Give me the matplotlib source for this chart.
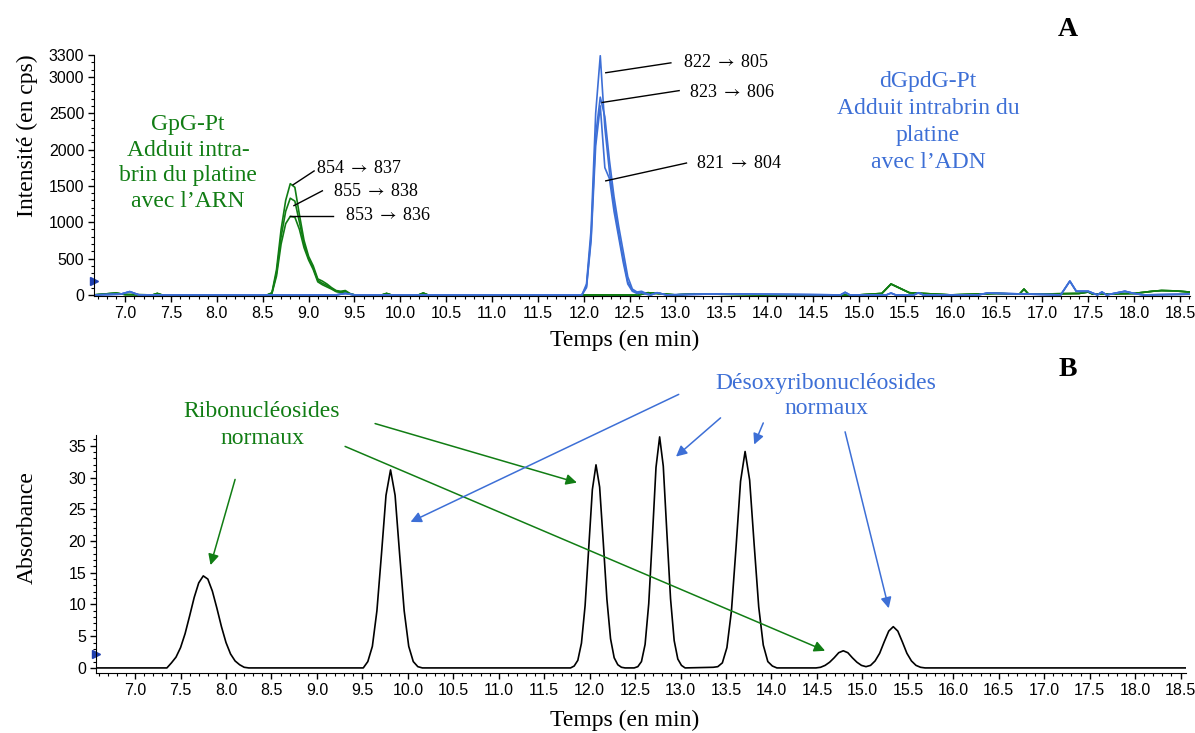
import matplotlib.pyplot as plt
from matplotlib.ticker import MultipleLocator

# ---- Panel A : MRM traces (temps en min, intensité en cps) ----
green_pre_t = [6.66, 6.8, 6.9, 7.0, 7.3, 7.35, 7.4, 8.0, 8.5]
green_pre_v = [0, 15, 25, 5, 0, 20, 0, 0, 0]
green_peak_t = [8.55, 8.6, 8.65, 8.7, 8.75, 8.8, 8.85, 8.9, 8.95, 9.0,
                9.05, 9.1, 9.15, 9.2, 9.25, 9.3, 9.35, 9.4, 9.45, 9.5]
v_854 = [0, 30, 350, 900, 1300, 1530, 1480, 1100, 750, 530,
         400, 220, 190, 150, 100, 60, 50, 60, 20, 0]
v_855 = [0, 25, 300, 800, 1150, 1330, 1290, 1000, 700, 500,
         370, 200, 160, 130, 90, 50, 40, 50, 15, 0]
v_853 = [0, 20, 260, 700, 980, 1080, 1070, 900, 650, 480,
         350, 180, 140, 110, 80, 45, 35, 40, 10, 0]
green_post_t = [9.8, 9.85, 9.9, 10.2, 10.25, 10.3, 11.0, 12.6, 12.7, 12.9, 13.0,
                13.2, 14.0, 15.0, 15.25, 15.35, 15.55, 16.0, 16.5, 16.75, 16.8,
                16.85, 17.4, 17.5, 17.55, 18.0, 18.2, 18.3, 18.45, 18.6]
green_post_v = [0, 20, 0, 0, 25, 0, 0, 0, 30, 10, 0,
                15, 0, 0, 20, 150, 30, 0, 20, 10, 80,
                10, 20, 40, 10, 20, 50, 60, 55, 40]

blue_pre_t = [6.66, 6.95, 7.05, 7.15, 8.5, 9.3, 9.4, 9.5, 11.95]
blue_pre_v = [0, 10, 45, 0, 0, 0, 20, 0, 0]
blue_peak_t = [11.98, 12.03, 12.08, 12.13, 12.18, 12.23, 12.28, 12.33,
               12.38, 12.43, 12.48, 12.53, 12.58, 12.63, 12.68, 12.73]
v_822 = [0, 150, 900, 2500, 3290, 2300, 1700, 1250, 850, 500, 180, 60, 30, 40, 10, 0]
v_823 = [0, 120, 800, 2200, 2720, 2450, 1850, 1350, 950, 600, 250, 80, 40, 50, 20, 0]
v_821 = [0, 100, 750, 2050, 2600, 1750, 1600, 1150, 800, 450, 150, 50, 20, 30, 10, 0]
blue_post_t = [12.8, 12.9, 13.5, 14.8, 14.85, 14.9, 15.3, 15.35, 15.4, 15.6, 15.65,
               15.7, 16.3, 16.4, 17.2, 17.3, 17.37, 17.5, 17.6, 17.65, 17.7,
               17.9, 18.0, 18.1, 18.6]
blue_post_v = [30, 0, 15, 0, 35, 0, 0, 25, 0, 0, 30,
               0, 0, 25, 0, 190, 50, 50, 0, 40, 0,
               50, 20, 0, 10]

# ---- Panel B : UV chromatogram (absorbance) ----
uv1_t = [6.57, 7.0, 7.35, 7.40, 7.45, 7.50, 7.55, 7.60, 7.65, 7.70, 7.75, 7.80,
         7.85, 7.90, 7.95, 8.00, 8.05, 8.10, 8.15, 8.20, 8.25]
uv1_v = [0, 0, 0, 0.8, 1.7, 3.2, 5.4, 8.2, 11.1, 13.4, 14.5, 14.0,
         12.1, 9.4, 6.5, 4.0, 2.2, 1.1, 0.5, 0.1, 0]
uv2_t = [9.51, 9.56, 9.61, 9.66, 9.71, 9.76, 9.81, 9.86, 9.91, 9.96, 10.01,
         10.06, 10.11, 10.16]
uv2_v = [0, 1.0, 3.4, 9.0, 17.9, 27.2, 31.2, 27.2, 17.9, 9.0, 3.4, 1.0, 0.2, 0]
uv3_t = [11.79, 11.83, 11.87, 11.91, 11.95, 11.99, 12.03, 12.07, 12.11, 12.15,
         12.19, 12.23, 12.27, 12.31, 12.35, 12.39]
uv3_v = [0, 0.3, 1.2, 3.9, 9.8, 18.9, 28.1, 32.0, 28.5, 19.8, 10.8, 4.6, 1.6,
         0.5, 0.1, 0]
uv4_t = [12.49, 12.53, 12.57, 12.61, 12.65, 12.69, 12.73, 12.77, 12.81, 12.85,
         12.89, 12.93, 12.97, 13.01, 13.05]
uv4_v = [0, 0.2, 1.0, 3.7, 10.1, 20.6, 31.6, 36.4, 31.8, 21.2, 10.9, 4.3, 1.4, 0.4, 0]
uv5_t = [13.36, 13.41, 13.46, 13.51, 13.56, 13.61, 13.66, 13.71, 13.76, 13.81,
         13.86, 13.91, 13.96, 14.01, 14.06]
uv5_v = [0.1, 0.2, 0.8, 3.2, 9.0, 18.9, 29.4, 34.1, 29.6, 19.4, 9.6, 3.6, 1.0, 0.3, 0]
uv6_t = [14.49, 14.54, 14.59, 14.64, 14.69, 14.74, 14.79, 14.84, 14.89, 14.94,
         14.99, 15.04]
uv6_v = [0, 0.1, 0.4, 0.9, 1.6, 2.4, 2.7, 2.4, 1.6, 0.9, 0.4, 0.2]
uv7_t = [15.09, 15.14, 15.19, 15.24, 15.29, 15.34, 15.39, 15.44, 15.49, 15.54,
         15.59, 15.64, 15.69, 18.56]
uv7_v = [0.4, 1.1, 2.3, 4.1, 5.8, 6.5, 5.8, 4.1, 2.3, 1.1, 0.4, 0.1, 0, 0]

GREEN = '#117d14'
BLUE = '#3d6fd6'
SERIF = ['Liberation Serif', 'DejaVu Serif']

plt.rcParams['font.family'] = ['Liberation Sans', 'DejaVu Sans']
plt.rcParams['mathtext.fontset'] = 'stix'
fig = plt.figure(figsize=(11.95, 7.33), dpi=100)
W, H = 1195, 733


def fx(px):
    return px / W


def fy(py):
    return 1 - py / H


ax1 = fig.add_axes([fx(94), fy(296), fx(1190 - 94), (296 - 55) / H])
ax2 = fig.add_axes([fx(96), fy(673), fx(1186 - 96), (673 - 435) / H])

# panel A traces
for v in (v_854, v_855, v_853):
    ax1.plot(green_pre_t + green_peak_t + green_post_t,
             green_pre_v + v + green_post_v, color=GREEN, lw=1.2)
for v in (v_822, v_823, v_821):
    ax1.plot(blue_pre_t + blue_peak_t + blue_post_t,
             blue_pre_v + v + blue_post_v, color=BLUE, lw=1.2)

# panel B trace
uv_t = uv1_t + uv2_t + uv3_t + uv4_t + uv5_t + uv6_t + uv7_t
uv_v = uv1_v + uv2_v + uv3_v + uv4_v + uv5_v + uv6_v + uv7_v
ax2.plot(uv_t, uv_v, color='black', lw=1.2)

ax1.set_xlim(6.66, 18.61)
ax1.set_ylim(-15, 3300)
ax1.set_yticks([0, 500, 1000, 1500, 2000, 2500, 3000, 3300])
ax1.yaxis.set_minor_locator(MultipleLocator(100))
ax2.set_xlim(6.57, 18.56)
ax2.set_ylim(-0.8, 36.7)
ax2.set_yticks(range(0, 40, 5))
ax2.yaxis.set_minor_locator(MultipleLocator(1))

for ax in (ax1, ax2):
    ax.set_xticks([7 + 0.5 * i for i in range(24)])
    ax.set_xticklabels(['%.1f' % (7 + 0.5 * i) for i in range(24)])
    ax.xaxis.set_minor_locator(MultipleLocator(0.1))
    ax.spines['top'].set_visible(False)
    ax.spines['right'].set_visible(False)
    ax.tick_params(which='major', direction='out', length=4, width=1,
                   labelsize=11.5, pad=3)
    ax.tick_params(which='minor', direction='out', length=2, width=0.8)
    ax.set_facecolor('none')

ax1.plot([6.66], [190], marker='>', color='#1f3fae', ms=6, clip_on=False)
ax2.plot([6.57], [2.2], marker='>', color='#1f3fae', ms=6, clip_on=False)

# axis titles
fig.text(fx(625), fy(340), 'Temps (en min)', family=SERIF, fontsize=17,
         ha='center', va='center')
fig.text(fx(625), fy(720), 'Temps (en min)', family=SERIF, fontsize=17,
         ha='center', va='center')
fig.text(fx(27), fy(136), 'Intensité (en cps)', family=SERIF, fontsize=17,
         ha='center', va='center', rotation=90)
fig.text(fx(27), fy(528), 'Absorbance', family=SERIF, fontsize=17,
         ha='center', va='center', rotation=90)
fig.text(fx(1068), fy(30), 'A', family=SERIF, fontsize=20, weight='bold',
         ha='center', va='center')
fig.text(fx(1068), fy(370), 'B', family=SERIF, fontsize=20, weight='bold',
         ha='center', va='center')

# panel A annotations
fig.text(fx(188), fy(163), 'GpG-Pt\nAdduit intra-\nbrin du platine\navec l\u2019ARN',
         family=SERIF, fontsize=17, color=GREEN, ha='center', va='center',
         linespacing=1.3)
fig.text(fx(928), fy(122), 'dGpdG-Pt\nAdduit intrabrin du\nplatine\navec l\u2019ADN',
         family=SERIF, fontsize=17, color=BLUE, ha='center', va='center',
         linespacing=1.38)

mrm_labels = ['854 $\\rightarrow$ 837', '855 $\\rightarrow$ 838',
              '853 $\\rightarrow$ 836', '822 $\\rightarrow$ 805',
              '823 $\\rightarrow$ 806', '821 $\\rightarrow$ 804']
mrm_tip = [(8.83, 1514), (8.84, 1228), (8.80, 1091),
           (12.24, 3056), (12.20, 2647), (12.24, 1569)]
mrm_end = [(9.06, 1705), (9.15, 1432), (9.27, 1091),
           (12.95, 3192), (13.04, 2810), (13.12, 1814)]
mrm_text = [(9.08, 1733), (9.27, 1419), (9.40, 1091),
            (13.08, 3192), (13.15, 2790), (13.22, 1814)]
for lab, tip, end, txt in zip(mrm_labels, mrm_tip, mrm_end, mrm_text):
    ax1.plot([tip[0], end[0]], [tip[1], end[1]], color='black', lw=1,
             clip_on=False)
    ax1.text(txt[0], txt[1], lab, family=SERIF, fontsize=13, ha='left',
             va='center', clip_on=False)

# panel B annotations
fig.text(fx(262), fy(425), 'Ribonucléosides\nnormaux', family=SERIF,
         fontsize=17, color=GREEN, ha='center', va='center', linespacing=1.4)
fig.text(fx(826), fy(396), 'Désoxyribonucléosides\nnormaux', family=SERIF,
         fontsize=17, color=BLUE, ha='center', va='center', linespacing=1.3)

green_start = [(8.10, 29.7), (9.64, 38.5), (9.31, 34.9)]
green_tip = [(7.83, 16.2), (11.86, 29.2), (14.59, 2.7)]
blue_start = [(12.98, 43.1), (13.44, 39.4), (13.91, 38.6), (14.81, 37.2)]
blue_tip = [(10.03, 23.0), (12.95, 33.3), (13.81, 35.2), (15.29, 9.4)]
for starts, tips, col in ((green_start, green_tip, GREEN),
                          (blue_start, blue_tip, BLUE)):
    for s, t in zip(starts, tips):
        ax2.annotate('', xy=t, xytext=s, annotation_clip=False,
                     arrowprops=dict(arrowstyle='-|>', color=col, lw=1.1,
                                     mutation_scale=16, shrinkA=0, shrinkB=0))

fig.savefig('out.png', dpi=100)
